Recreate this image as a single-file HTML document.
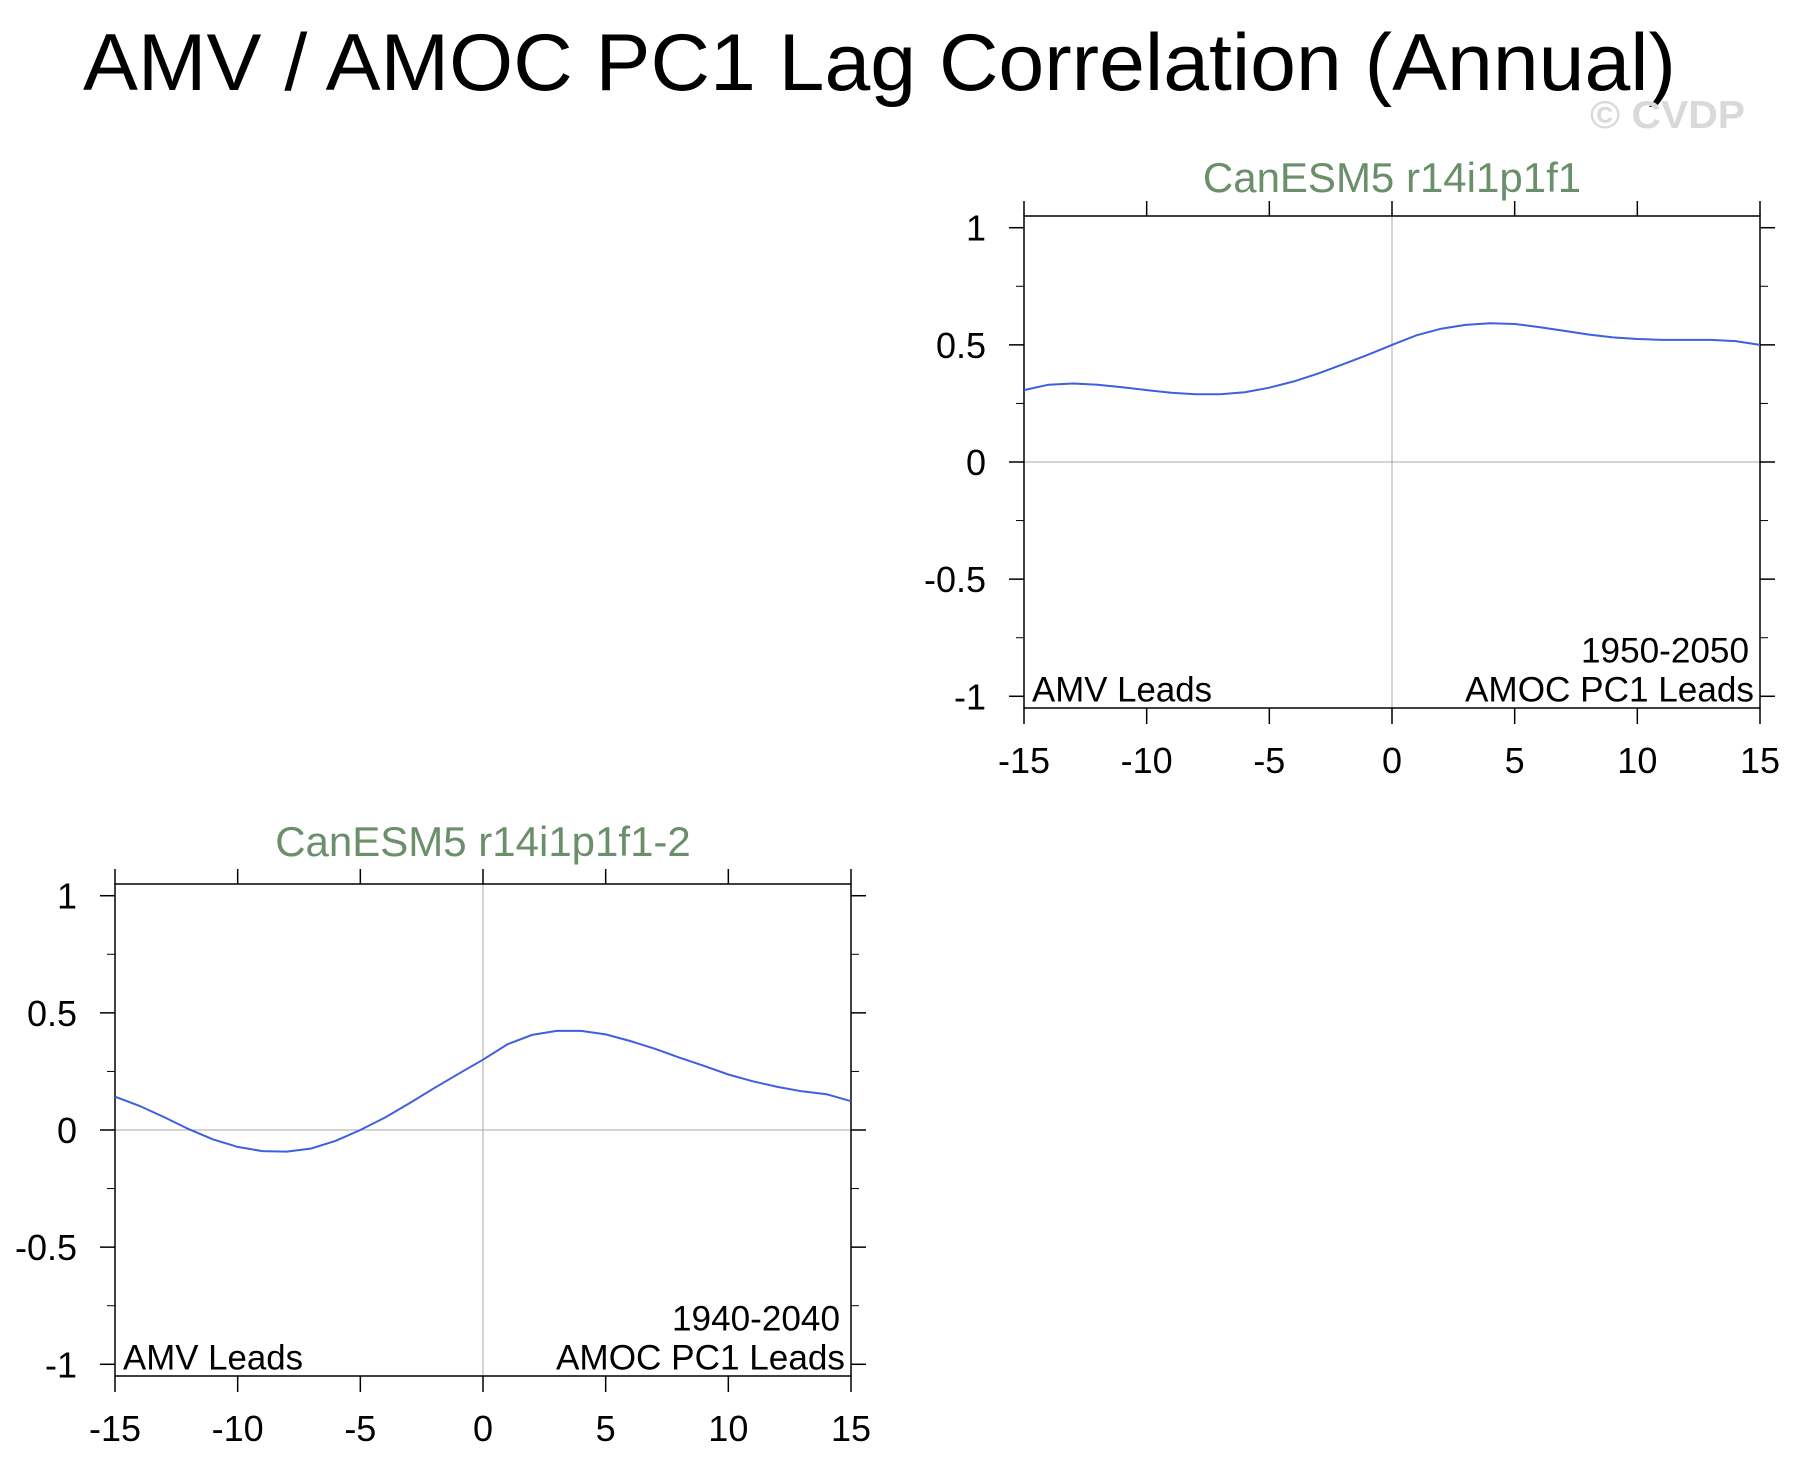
<!DOCTYPE html>
<html><head><meta charset="utf-8"><style>
html,body{margin:0;padding:0;background:#fff;}
svg{display:block;font-family:"Liberation Sans",Arial,sans-serif;}
</style></head><body>
<svg id="chart" width="1793" height="1473" viewBox="0 0 1793 1473" xmlns="http://www.w3.org/2000/svg">
<text x="83" y="90" font-size="81" textLength="1593" lengthAdjust="spacingAndGlyphs">AMV / AMOC PC1 Lag Correlation (Annual)</text>
<text x="1590" y="128" font-size="39" font-weight="bold" fill="#d9d9d9" textLength="155" lengthAdjust="spacingAndGlyphs">© CVDP</text>
</svg>
<script>
const lags = [-15,-14,-13,-12,-11,-10,-9,-8,-7,-6,-5,-4,-3,-2,-1,0,1,2,3,4,5,6,7,8,9,10,11,12,13,14,15];
const corrPanel1 = [0.307,0.33,0.335,0.33,0.319,0.307,0.296,0.289,0.289,0.298,0.317,0.344,0.378,0.417,0.457,0.5,0.541,0.569,0.585,0.592,0.589,0.576,0.56,0.544,0.532,0.525,0.521,0.521,0.521,0.516,0.5];
const corrPanel2 = [0.142,0.103,0.055,0.004,-0.04,-0.072,-0.09,-0.092,-0.079,-0.046,0.0,0.053,0.114,0.178,0.24,0.3,0.366,0.406,0.423,0.423,0.408,0.38,0.347,0.309,0.274,0.237,0.208,0.184,0.165,0.153,0.123];
const xTicks = [-15,-10,-5,0,5,10,15];
const yTicks = [-1,-0.5,0,0.5,1];
const yTickLabels = ["-1","-0.5","0","0.5","1"];
const yMinorTicks = [-0.75,-0.25,0.25,0.75];

const NS = "http://www.w3.org/2000/svg";
const svg = document.getElementById('chart');
function mk(tag, attrs, parent){
  const e = document.createElementNS(NS, tag);
  for (const k in attrs) e.setAttribute(k, attrs[k]);
  (parent||svg).appendChild(e);
  return e;
}
function panel(p){
  const g = mk('g', {});
  
  
  const L=p.left, R=p.right, T=p.top, B=p.bottom;
  const xs = v => L + (v+15)/30*(R-L);
  const ys = v => T + (1.05 - v)/2.1*(B-T);
  const gx = mk('line',{x1:xs(0),x2:xs(0),y1:T,y2:B,stroke:'#aaa','stroke-width':1},g);
  
  
  const gy = mk('line',{x1:L,x2:R,y1:ys(0),y2:ys(0),stroke:'#aaa','stroke-width':1},g);
  
  
  const fr = mk('rect',{x:L,y:T,width:R-L,height:B-T,fill:'none',stroke:'#000','stroke-width':1.5},g);
  
  
  xTicks.forEach(v=>{
    const x = xs(v);
    mk('line',{x1:x,x2:x,y1:B,y2:B+16,stroke:'#000','stroke-width':1.5},g);
    mk('line',{x1:x,x2:x,y1:T,y2:T-15,stroke:'#000','stroke-width':1.5},g);
    const t = mk('text',{x:x,y:B+65,'font-size':36,'text-anchor':'middle'},g);
    t.textContent = String(v);
    
    
  });
  yTicks.forEach((v,i)=>{
    const y = ys(v);
    mk('line',{x1:L-15,x2:L,y1:y,y2:y,stroke:'#000','stroke-width':1.5},g);
    mk('line',{x1:R,x2:R+15,y1:y,y2:y,stroke:'#000','stroke-width':1.5},g);
    const t = mk('text',{x:L-38,y:y+13,'font-size':36,'text-anchor':'end'},g);
    t.textContent = yTickLabels[i];
    
    
  });
  yMinorTicks.forEach(v=>{
    const y = ys(v);
    mk('line',{x1:L-8,x2:L,y1:y,y2:y,stroke:'#000','stroke-width':1},g);
    mk('line',{x1:R,x2:R+8,y1:y,y2:y,stroke:'#000','stroke-width':1},g);
  });
  const pts = lags.map((l,i)=>xs(l).toFixed(1)+','+ys(p.data[i]).toFixed(1)).join(' ');
  const pl = mk('polyline',{points:pts,fill:'none',stroke:'#3d5fe0','stroke-width':2},g);
  
  
  const ti = mk('text',{x:(L+R)/2,y:p.titleY,'font-size':42,'text-anchor':'middle',fill:'#6a8f6a'},g);
  ti.textContent = p.title;
  
  
  const a = mk('text',{x:L+8,y:ys(-1)+5,'font-size':35,textLength:180,lengthAdjust:'spacingAndGlyphs'},g);
  a.textContent = 'AMV Leads';
  
  
  const b = mk('text',{x:R-295,y:ys(-1)+5,'font-size':35,textLength:289,lengthAdjust:'spacingAndGlyphs'},g);
  b.textContent = 'AMOC PC1 Leads';
  
  
  const c = mk('text',{x:R-179,y:ys(-1)-34,'font-size':35,textLength:168,lengthAdjust:'spacingAndGlyphs'},g);
  c.textContent = p.years;
  
  
}
panel({name:'panel-r14i1p1f1',left:1024,right:1760,top:216,bottom:708,titleY:192,title:'CanESM5 r14i1p1f1',years:'1950-2050',data:corrPanel1});
panel({name:'panel-r14i1p1f1-2',left:115,right:851,top:884,bottom:1376,titleY:856,title:'CanESM5 r14i1p1f1-2',years:'1940-2040',data:corrPanel2});
</script>
</body></html>
